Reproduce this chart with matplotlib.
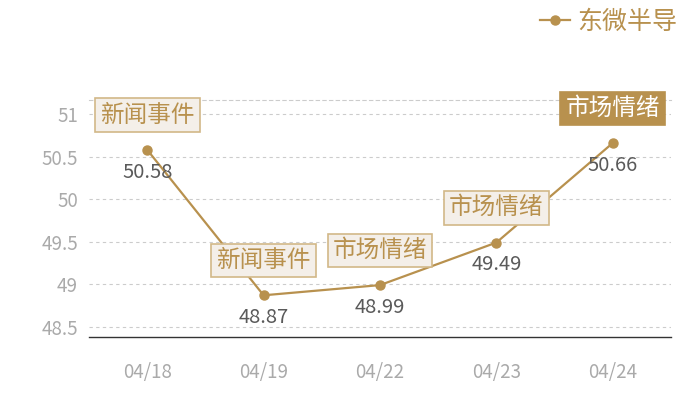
import matplotlib.pyplot as plt

plt.rcParams['font.family'] = ['Noto Sans CJK SC', 'DejaVu Sans']

dates = ['04/18', '04/19', '04/22', '04/23', '04/24']
prices = [50.58, 48.87, 48.99, 49.49, 50.66]
events = ['新闻事件', '新闻事件', '市场情绪', '市场情绪', '市场情绪']
series_name = '东微半导'
y_ticks = [48.5, 49, 49.5, 50, 50.5, 51]

gold = '#B8914E'

fig = plt.figure(figsize=(7, 4), dpi=100)
ax = fig.add_axes([89 / 700, 63 / 400, 582 / 700, 237 / 400])

x = list(range(len(dates)))
ax.plot(x, prices, color=gold, lw=1.6, marker='o', ms=6.5, label=series_name, zorder=3)

for i, (v, ev) in enumerate(zip(prices, events)):
    ax.annotate(f'{v:.2f}', (i, v), xytext=(0, -16), textcoords='offset points',
                ha='center', va='center', fontsize=14.5, color='#5A5A5A', zorder=4)
    last = i == len(prices) - 1
    ax.annotate(ev, (i, v), xytext=(0, 25), textcoords='offset points',
                ha='center', va='center', fontsize=17,
                color='white' if last else gold,
                bbox=dict(boxstyle='square,pad=0.22',
                          fc=gold if last else '#F4EFE9',
                          ec='#D2B888' if not last else gold, lw=1.2),
                zorder=5)

ax.set_xlim(-0.5, len(dates) - 0.5)
ax.set_ylim(48.38, 51.165)
ax.set_xticks(x)
ax.set_xticklabels(dates)
ax.set_yticks(y_ticks)
ax.set_yticklabels(['48.5', '49', '49.5', '50', '50.5', '51'])
ax.tick_params(length=0, labelsize=13.5, labelcolor='#AAAAAA')
ax.tick_params(axis='x', pad=18)
ax.tick_params(axis='y', pad=8)
ax.grid(axis='y', ls=(0, (3, 3)), color='#CCCCCC', lw=0.8)
ax.set_axisbelow(True)

for s in ['left', 'right']:
    ax.spines[s].set_visible(False)
ax.spines['top'].set_linestyle((0, (3, 3)))
ax.spines['top'].set_color('#CCCCCC')
ax.spines['top'].set_linewidth(0.8)
ax.spines['bottom'].set_color('#333333')
ax.spines['bottom'].set_linewidth(1)

leg = fig.legend(loc='upper right', bbox_to_anchor=(1.0, 1.035), frameon=False,
                 fontsize=18, handlelength=1.2, handletextpad=0.3)
for t in leg.get_texts():
    t.set_color(gold)

fig.savefig('out.png', dpi=100)
